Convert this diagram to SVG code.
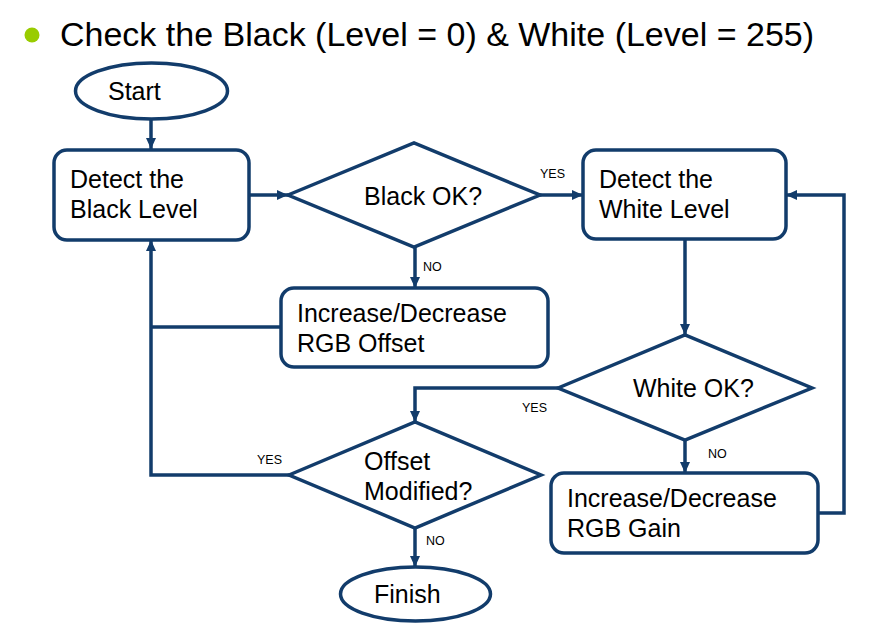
<svg xmlns="http://www.w3.org/2000/svg" width="872" height="630" viewBox="0 0 872 630">
<style>
.shape{fill:#ffffff;stroke:#123C6B;stroke-width:3.5}
.conn{fill:none;stroke:#123C6B;stroke-width:3.5}
.t{font-family:"Liberation Sans",Arial,sans-serif;font-size:25px;fill:#000}
.s{font-family:"Liberation Sans",Arial,sans-serif;font-size:12.5px;fill:#000}
.title{font-family:"Liberation Sans",Arial,sans-serif;font-size:34px;fill:#000}
</style>
<defs>
<marker id="arr" markerUnits="userSpaceOnUse" markerWidth="12" markerHeight="12" refX="11" refY="6" orient="auto">
<path d="M0,1 L11,6 L0,11 z" fill="#123C6B"/>
</marker>
</defs>
<rect width="872" height="630" fill="#ffffff"/>
<g id="title">
<circle cx="32" cy="35" r="7.5" fill="#99CC00"/>
<text class="title" x="60" y="46">Check the Black (Level = 0) &amp; White (Level = 255)</text>
</g>
<g id="connectors">
<path class="conn" d="M151,119 V149" marker-end="url(#arr)"/>
<path class="conn" d="M249,195 H288" marker-end="url(#arr)"/>
<path class="conn" d="M540,195 H583" marker-end="url(#arr)"/>
<path class="conn" d="M415,247 V288" marker-end="url(#arr)"/>
<path class="conn" d="M281,327 H151"/>
<path class="conn" d="M289,475 H151 V240" marker-end="url(#arr)"/>
<path class="conn" d="M685,239 V335" marker-end="url(#arr)"/>
<path class="conn" d="M558,388 H415 V422" marker-end="url(#arr)"/>
<path class="conn" d="M685,440 V473" marker-end="url(#arr)"/>
<path class="conn" d="M818,513 H844 V195 H786" marker-end="url(#arr)"/>
<path class="conn" d="M415,528 V567" marker-end="url(#arr)"/>
<text class="s" x="540" y="178">YES</text>
<text class="s" x="423" y="271">NO</text>
<text class="s" x="522" y="412">YES</text>
<text class="s" x="257" y="464">YES</text>
<text class="s" x="426" y="545">NO</text>
<text class="s" x="708" y="458">NO</text>
</g>
<g id="start">
<ellipse class="shape" cx="151.5" cy="91" rx="76" ry="28"/>
<text class="t" x="108" y="100">Start</text>
</g>
<g id="detect-black">
<rect class="shape" x="54" y="150" width="195" height="90" rx="13"/>
<text class="t" x="70" y="188">Detect the</text>
<text class="t" x="70" y="218">Black Level</text>
</g>
<g id="black-ok">
<polygon class="shape" points="288,195 414,143 540,195 414,247"/>
<text class="t" x="364" y="205">Black OK?</text>
</g>
<g id="offset-box">
<rect class="shape" x="281" y="288" width="267" height="79" rx="13"/>
<text class="t" x="297" y="322">Increase/Decrease</text>
<text class="t" x="297" y="352">RGB Offset</text>
</g>
<g id="detect-white">
<rect class="shape" x="583" y="150" width="203" height="89" rx="13"/>
<text class="t" x="599" y="188">Detect the</text>
<text class="t" x="599" y="218">White Level</text>
</g>
<g id="white-ok">
<polygon class="shape" points="558,388 685,335 812,388 685,440"/>
<text class="t" x="633" y="397">White OK?</text>
</g>
<g id="gain-box">
<rect class="shape" x="551" y="473" width="267" height="80" rx="13"/>
<text class="t" x="567" y="507">Increase/Decrease</text>
<text class="t" x="567" y="537">RGB Gain</text>
</g>
<g id="offset-modified">
<polygon class="shape" points="289,475 415,422 541,475 415,528"/>
<text class="t" x="364" y="470">Offset</text>
<text class="t" x="364" y="500">Modified?</text>
</g>
<g id="finish">
<ellipse class="shape" cx="415.5" cy="594" rx="75" ry="27"/>
<text class="t" x="374" y="603">Finish</text>
</g>
</svg>
